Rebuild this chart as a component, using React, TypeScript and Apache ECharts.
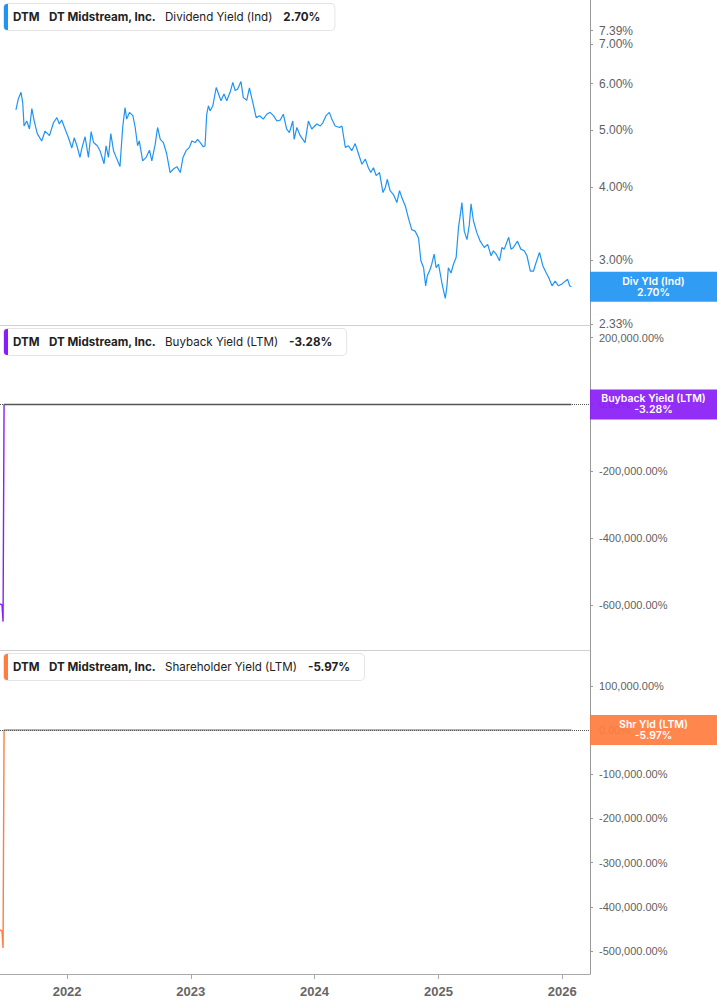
import React, { useEffect, useRef } from 'react'
import * as echarts from 'echarts'

// dividend yield (Ind), percent
const dividendYield: [string, number][] = [
  ['2021-08-03', 5.41], ['2021-08-10', 5.65], ['2021-08-18', 5.80], ['2021-08-23', 5.57], ['2021-08-27', 5.08],
  ['2021-09-04', 5.18], ['2021-09-12', 5.02], ['2021-09-19', 5.44], ['2021-09-26', 5.18], ['2021-10-05', 4.93],
  ['2021-10-18', 4.79], ['2021-10-28', 4.98], ['2021-11-10', 4.89], ['2021-11-22', 5.15], ['2021-12-02', 5.25],
  ['2021-12-09', 5.12], ['2021-12-16', 5.20], ['2021-12-26', 5.02], ['2022-01-05', 4.85], ['2022-01-15', 4.66],
  ['2022-01-22', 4.85], ['2022-01-30', 4.70], ['2022-02-08', 4.49], ['2022-02-13', 4.64], ['2022-02-23', 4.87],
  ['2022-03-05', 4.49], ['2022-03-13', 4.97], ['2022-03-20', 4.76], ['2022-03-31', 4.70], ['2022-04-08', 4.61],
  ['2022-04-20', 4.38], ['2022-04-26', 4.70], ['2022-05-03', 4.49], ['2022-05-10', 4.93], ['2022-05-18', 4.61],
  ['2022-05-28', 4.46], ['2022-06-06', 4.33], ['2022-06-14', 5.05], ['2022-06-21', 5.46], ['2022-06-26', 5.22],
  ['2022-07-04', 5.36], ['2022-07-14', 5.29], ['2022-07-21', 5.05], ['2022-07-28', 4.70], ['2022-08-02', 4.79],
  ['2022-08-12', 4.43], ['2022-08-22', 4.49], ['2022-09-01', 4.62], ['2022-09-08', 4.43], ['2022-09-18', 4.73],
  ['2022-09-25', 5.05], ['2022-10-03', 4.82], ['2022-10-12', 4.76], ['2022-10-22', 4.55], ['2022-11-01', 4.23],
  ['2022-11-11', 4.29], ['2022-11-21', 4.33], ['2022-12-01', 4.23], ['2022-12-09', 4.49], ['2022-12-18', 4.61],
  ['2022-12-28', 4.67], ['2023-01-04', 4.79], ['2023-01-14', 4.76], ['2023-01-21', 4.82], ['2023-01-29', 4.76],
  ['2023-02-07', 4.68], ['2023-02-12', 4.70], ['2023-02-17', 5.32], ['2023-02-22', 5.50], ['2023-02-27', 5.39],
  ['2023-03-07', 5.50], ['2023-03-17', 5.91], ['2023-03-24', 5.76], ['2023-03-31', 5.61], ['2023-04-09', 5.76],
  ['2023-04-17', 5.61], ['2023-04-27', 5.80], ['2023-05-05', 6.03], ['2023-05-12', 5.84], ['2023-05-19', 5.87],
  ['2023-05-29', 6.05], ['2023-06-05', 5.68], ['2023-06-15', 5.62], ['2023-06-23', 5.90], ['2023-07-03', 5.57],
  ['2023-07-13', 5.25], ['2023-07-23', 5.29], ['2023-08-03', 5.22], ['2023-08-13', 5.32], ['2023-08-23', 5.36],
  ['2023-09-02', 5.29], ['2023-09-12', 5.18], ['2023-09-22', 5.20], ['2023-10-01', 5.32], ['2023-10-11', 5.02],
  ['2023-10-19', 4.95], ['2023-10-29', 5.18], ['2023-11-02', 4.82], ['2023-11-10', 5.05], ['2023-11-20', 4.89],
  ['2023-12-04', 4.76], ['2023-12-14', 5.18], ['2023-12-24', 5.02], ['2024-01-08', 5.12], ['2024-01-18', 5.08],
  ['2024-01-26', 5.15], ['2024-02-04', 5.29], ['2024-02-14', 5.36], ['2024-02-21', 5.22], ['2024-03-02', 5.08],
  ['2024-03-15', 5.05], ['2024-03-22', 5.08], ['2024-04-01', 4.67], ['2024-04-10', 4.70], ['2024-04-20', 4.61],
  ['2024-04-30', 4.74], ['2024-05-10', 4.55], ['2024-05-20', 4.37], ['2024-05-30', 4.46], ['2024-06-08', 4.31],
  ['2024-06-15', 4.23], ['2024-06-23', 4.31], ['2024-07-01', 4.18], ['2024-07-11', 4.23], ['2024-07-21', 3.91],
  ['2024-07-28', 3.99], ['2024-08-03', 4.12], ['2024-08-11', 3.94], ['2024-08-21', 3.88], ['2024-08-31', 3.76],
  ['2024-09-08', 3.94], ['2024-09-15', 3.83], ['2024-09-25', 3.71], ['2024-10-04', 3.54], ['2024-10-14', 3.38],
  ['2024-10-24', 3.36], ['2024-11-03', 3.27], ['2024-11-10', 2.99], ['2024-11-18', 2.91], ['2024-11-24', 2.71],
  ['2024-11-29', 2.82], ['2024-12-07', 2.89], ['2024-12-12', 2.95], ['2024-12-19', 3.07], ['2024-12-25', 2.91],
  ['2025-01-01', 2.95], ['2025-01-11', 2.74], ['2025-01-21', 2.58], ['2025-01-26', 2.71], ['2025-01-30', 2.91],
  ['2025-02-07', 2.85], ['2025-02-14', 2.95], ['2025-02-22', 3.03], ['2025-03-01', 3.41], ['2025-03-06', 3.57],
  ['2025-03-11', 3.76], ['2025-03-18', 3.36], ['2025-03-26', 3.25], ['2025-04-02', 3.45], ['2025-04-07', 3.74],
  ['2025-04-14', 3.50], ['2025-04-24', 3.34], ['2025-05-04', 3.23], ['2025-05-16', 3.15], ['2025-05-26', 3.19],
  ['2025-06-05', 3.05], ['2025-06-12', 3.11], ['2025-06-20', 3.07], ['2025-06-30', 2.99], ['2025-07-07', 3.15],
  ['2025-07-14', 3.13], ['2025-07-27', 3.28], ['2025-08-03', 3.13], ['2025-08-10', 3.15], ['2025-08-22', 3.23],
  ['2025-09-01', 3.13], ['2025-09-11', 3.11], ['2025-09-19', 3.05], ['2025-09-29', 2.87], ['2025-10-08', 2.87],
  ['2025-10-16', 2.97], ['2025-10-26', 3.09], ['2025-11-05', 2.93], ['2025-11-15', 2.85], ['2025-11-22', 2.80],
  ['2025-12-02', 2.71], ['2025-12-11', 2.76], ['2025-12-21', 2.71], ['2025-12-31', 2.73], ['2026-01-10', 2.76],
  ['2026-01-17', 2.78], ['2026-01-23', 2.71], ['2026-01-28', 2.70],
]

// buyback yield (LTM), percent
const buybackYield: [string, number][] = [
  ['2021-06-17', -597000], ['2021-06-23', -600000], ['2021-06-26', -650000],
  ['2021-06-29', 0], ['2026-01-28', -3.28],
]

// shareholder yield (LTM), percent
const shareholderYield: [string, number][] = [
  ['2021-06-17', -452000], ['2021-06-23', -455000], ['2021-06-26', -493000],
  ['2021-06-29', 0], ['2026-01-28', -5.97],
]

const divTicks = [2.33, 3, 4, 5, 6, 7, 7.39]
const buybackTicks = [-600000, -400000, -200000, 0, 200000]
const shareholderTicks = [-500000, -400000, -300000, -200000, -100000, 0, 100000]
const yearTicks = ['2022-01-01', '2023-01-01', '2024-01-01', '2025-01-01', '2026-01-01']

const X_MIN = '2021-06-17'
const X_MAX = '2026-03-24'
// axis ranges
const DIV_RANGE = [2.323, 8.337]
const BUYBACK_RANGE = [-735000, 238000]
const SHAREHOLDER_RANGE = [-552000, 181000]

const BLUE = '#2094f3'
const PURPLE = '#8a1cf5'
const ORANGE = '#ff7d3f'

const panels = [
  { ticker: 'DTM', name: 'DT Midstream, Inc.', metric: 'Dividend Yield (Ind)', tag: 'Div Yld (Ind)', color: BLUE },
  { ticker: 'DTM', name: 'DT Midstream, Inc.', metric: 'Buyback Yield (LTM)', tag: 'Buyback Yield (LTM)', color: PURPLE },
  { ticker: 'DTM', name: 'DT Midstream, Inc.', metric: 'Shareholder Yield (LTM)', tag: 'Shr Yld (LTM)', color: ORANGE },
]

const GRID_TOPS = [0, 325, 650]
const GRID_HEIGHTS = [325, 325, 324]
const AXIS_GRAY = '#999'
const LABEL_GRAY = '#5f5f5f'

const ts = (d: string) => new Date(d + 'T00:00:00Z').getTime()
const pct = (v: number) => v.toLocaleString('en-US', { minimumFractionDigits: 2, maximumFractionDigits: 2 }) + '%'

export default function App(): JSX.Element {
  const ref = useRef<HTMLDivElement>(null)

  useEffect(() => {
    if (!ref.current) return
    const chart = echarts.init(ref.current, null, { renderer: 'svg' })
    const years = yearTicks.map(ts)

    const xAxis = [0, 1, 2].map(i => ({
      type: 'value', gridIndex: i, min: ts(X_MIN), max: ts(X_MAX),
      axisLine: { show: true, onZero: false, lineStyle: { color: i === 2 ? '#aaa' : '#d0d0d0', width: 1 } },
      axisTick: i === 2 ? { show: true, length: 5, lineStyle: { color: '#aaa' }, customValues: years } : { show: false },
      axisLabel: i === 2 ? {
        show: true, customValues: years, margin: 11,
        color: '#666', fontSize: 13, fontWeight: 'bold', fontFamily: 'Liberation Sans',
        formatter: (v: number) => String(new Date(v).getUTCFullYear()),
      } : { show: false },
      splitLine: { show: false },
    }))

    const yBase = (i: number, min: number, max: number, ticks: number[], fmt: (v: number) => string, size: number) => ({
      type: 'value', gridIndex: i, position: 'right', min, max,
      axisLine: { show: true, onZero: false, lineStyle: { color: AXIS_GRAY, width: 1 } },
      axisTick: { show: true, length: 3, lineStyle: { color: AXIS_GRAY }, customValues: ticks },
      axisLabel: { customValues: ticks, formatter: fmt, margin: 9, color: LABEL_GRAY, fontSize: size, fontFamily: 'Liberation Sans' },
      splitLine: { show: false },
    })

    const zeroLine = {
      silent: true, symbol: 'none', label: { show: false },
      lineStyle: { type: 'dotted', color: '#555', width: 1 },
      data: [{ yAxis: 0 }],
    }

    chart.setOption({
      animation: false,
      grid: [0, 1, 2].map(i => ({ left: 0, right: 127, top: GRID_TOPS[i], height: GRID_HEIGHTS[i] })),
      xAxis,
      yAxis: [
        yBase(0, Math.log(DIV_RANGE[0]), Math.log(DIV_RANGE[1]), divTicks.map(Math.log), v => pct(Math.exp(v)), 12),
        yBase(1, BUYBACK_RANGE[0], BUYBACK_RANGE[1], buybackTicks, pct, 11),
        yBase(2, SHAREHOLDER_RANGE[0], SHAREHOLDER_RANGE[1], shareholderTicks, pct, 11),
      ],
      series: [
        {
          type: 'line', xAxisIndex: 0, yAxisIndex: 0, showSymbol: false,
          data: dividendYield.map(([d, v]) => [ts(d), Math.log(v)]),
          lineStyle: { color: BLUE, width: 1.2 }, itemStyle: { color: BLUE },
        },
        {
          type: 'line', xAxisIndex: 1, yAxisIndex: 1, showSymbol: false,
          data: buybackYield.map(([d, v]) => [ts(d), v]),
          lineStyle: { color: PURPLE, width: 1.4 }, itemStyle: { color: PURPLE }, markLine: zeroLine,
        },
        {
          type: 'line', xAxisIndex: 2, yAxisIndex: 2, showSymbol: false,
          data: shareholderYield.map(([d, v]) => [ts(d), v]),
          lineStyle: { color: ORANGE, width: 1.4 }, itemStyle: { color: ORANGE }, markLine: zeroLine,
        },
      ],
    })

    const lasts = [
      dividendYield[dividendYield.length - 1][1],
      buybackYield[buybackYield.length - 1][1],
      shareholderYield[shareholderYield.length - 1][1],
    ]
    const tagY = [
      chart.convertToPixel({ yAxisIndex: 0 }, Math.log(lasts[0])) as number,
      chart.convertToPixel({ yAxisIndex: 1 }, lasts[1]) as number,
      chart.convertToPixel({ yAxisIndex: 2 }, lasts[2]) as number,
    ]

    const font = { fontFamily: 'Inter', fontSize: 11.6, fill: '#222', lineHeight: 12 }
    const graphic: any[] = []
    panels.forEach((p, i) => {
      const top = GRID_TOPS[i] + 4
      graphic.push({
        type: 'text', x: 4, y: top, z: 100,
        style: {
          text: `{a|${p.ticker}}{b|${p.name}}{c|${p.metric}}{d|${pct(lasts[i])}}`,
          rich: {
            a: { ...font, fontWeight: 700, width: 36 },
            b: { ...font, fontWeight: 700, width: 116 },
            c: { ...font, fontWeight: 400 },
            d: { ...font, fontWeight: 700, padding: [0, 0, 0, 11] },
          },
          backgroundColor: '#fff', borderColor: '#e4e4e4', borderWidth: 1, borderRadius: 4,
          padding: [7, 14, 7, 9],
        },
      })
      graphic.push({
        type: 'rect', x: 4, y: top, z: 101,
        shape: { width: 4, height: 26, r: [3, 0, 0, 3] },
        style: { fill: p.color },
      })
      graphic.push({
        type: 'rect', x: 590, y: tagY[i] - 15, z: 100,
        shape: { width: 127, height: 30 },
        style: { fill: p.color, opacity: 0.92 },
      })
      graphic.push({
        type: 'text', x: 653.5, y: tagY[i], z: 101,
        style: {
          text: `${p.tag}\n${pct(lasts[i])}`, fill: '#fff', align: 'center', verticalAlign: 'middle',
          fontFamily: 'Inter', fontSize: 10.5, fontWeight: 600, lineHeight: 11,
        },
      })
    })
    chart.setOption({ graphic })

    return () => chart.dispose()
  }, [])

  return <div ref={ref} style={{ position: 'absolute', left: 0, top: 0, width: 717, height: 1005, background: '#fff' }} />
}
